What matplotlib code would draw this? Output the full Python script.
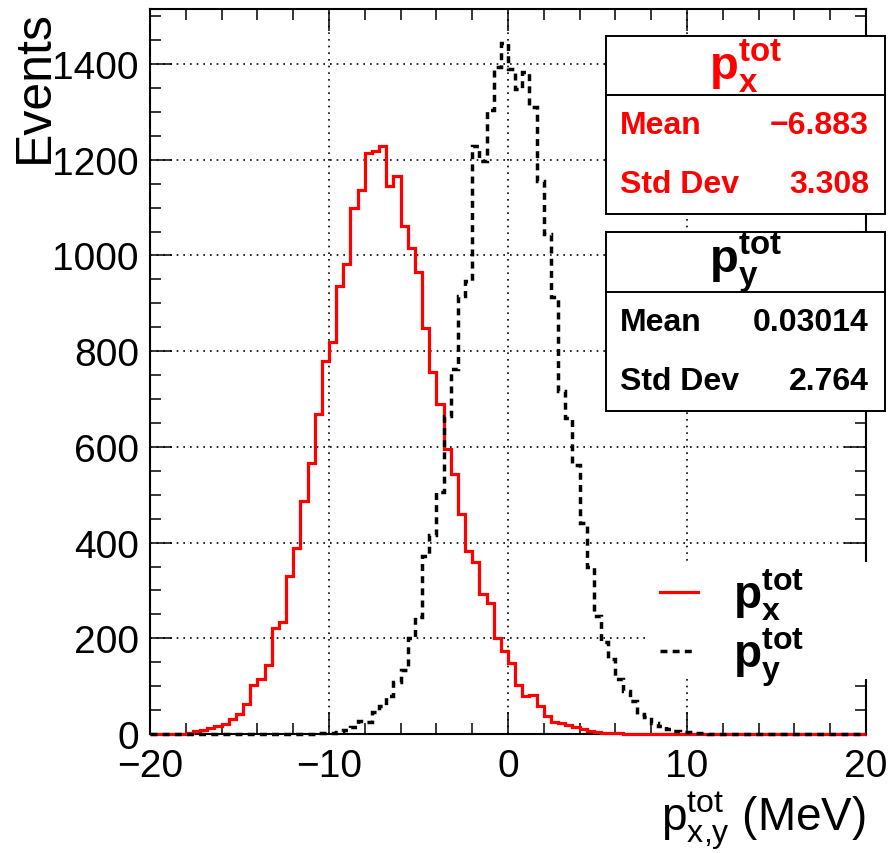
import matplotlib
matplotlib.use('Agg')
import matplotlib.pyplot as plt
import numpy as np
from matplotlib.patches import Rectangle
from matplotlib.lines import Line2D
from matplotlib.ticker import MultipleLocator

plt.rcParams['font.family'] = ['Liberation Sans', 'DejaVu Sans']
plt.rcParams['mathtext.fontset'] = 'custom'
plt.rcParams['mathtext.rm'] = 'Liberation Sans'
plt.rcParams['mathtext.it'] = 'Liberation Sans:italic'
plt.rcParams['mathtext.bf'] = 'Liberation Sans:bold'

# binning: 100 bins from -20 to 20 MeV
bin_edges = np.linspace(-20, 20, 101)

# p_x^tot (red, solid)
px_counts = [
    0, 0, 0, 1, 1, 3,
    6, 9, 12, 16, 21, 31, 42, 63, 102, 115,
    145, 221, 235, 331, 388, 487, 566, 669, 780, 820,
    937, 983, 1100, 1137, 1215, 1219, 1229, 1146, 1166, 1062,
    1015, 965, 848, 756, 690, 595, 543, 460, 383, 359,
    293, 274, 200, 174, 148, 103, 80, 81, 59, 38,
    26, 22, 19, 14, 10, 6, 4, 3, 2, 2,
    1, 1,
    0, 0, 0, 0, 0, 0, 0, 0, 0, 0, 0, 0, 0, 0, 0, 0,
    0, 0, 0, 0, 0, 0, 0, 0, 0, 0, 0, 0, 0, 0, 0, 0,
]

# p_y^tot (black, dashed)
py_counts = [
    0, 0, 0, 0, 0, 0, 0, 0, 0, 0, 0, 0, 0, 0, 0, 0, 0, 0, 0, 0,
    1, 1, 1, 2, 2, 3, 5, 9, 14, 28,
    25, 45, 58, 80, 108, 134, 200, 245, 372, 416,
    505, 665, 763, 916, 947, 1229, 1198, 1304, 1393, 1444,
    1389, 1348, 1384, 1311, 1156, 1044, 914, 716, 660, 562,
    440, 350, 247, 192, 157, 115, 90, 70, 42, 36,
    24, 17, 11, 7, 5, 4, 2, 2, 1, 1,
    0, 0, 0, 0, 0, 0, 0, 0, 0, 0, 0, 0, 0, 0, 0, 0, 0, 0, 0, 0,
]

px_stats = [('Mean', '\u22126.883'), ('Std Dev', '3.308')]
py_stats = [('Mean', '0.03014'), ('Std Dev', '2.764')]

W, H = 890, 854
fig = plt.figure(figsize=(W / 100, H / 100), dpi=100)
ax = fig.add_axes([150 / W, 1 - 735 / H, 716 / W, 725 / H])

dash = (0, (2.0, 1.5))
ax.stairs(px_counts, bin_edges, color='red', lw=2.3, baseline=0, zorder=2.6, clip_on=False)
ax.stairs(py_counts, bin_edges, color='black', lw=2.5, linestyle=dash,
          baseline=0, zorder=2.7, clip_on=False)

ax.set_xlim(-20, 20)
ax.set_ylim(0, 1515)
ax.xaxis.set_major_locator(MultipleLocator(10))
ax.xaxis.set_minor_locator(MultipleLocator(2))
ax.yaxis.set_major_locator(MultipleLocator(200))
ax.yaxis.set_minor_locator(MultipleLocator(50))
ax.tick_params(which='both', direction='in', top=True, right=True, width=1.1)
ax.tick_params(which='major', length=16)
ax.tick_params(which='minor', length=8)
ax.tick_params(axis='x', labelsize=28, pad=10)
ax.tick_params(axis='y', labelsize=28, pad=8)
for s in ax.spines.values():
    s.set_linewidth(1.5)

ax.set_axisbelow(True)
ax.grid(True, which='major', color='black', linestyle=(0, (1, 3)), lw=1.2)

ax.set_ylabel('Events', fontsize=36, loc='top')
ax.yaxis.set_label_coords(-0.128, 1.0)
ax.set_xlabel(r'$\mathrm{p^{tot}_{x{,}y}}$ (MeV)', fontsize=33, loc='right')
ax.xaxis.set_label_coords(1.0, -0.075)

# legend (ROOT style, no border, white fill over grid)
ax.add_patch(Rectangle(((650 - 150) / 716, (735 - 680) / 725), (890 - 650) / 716,
                       (680 - 563) / 725, transform=ax.transAxes, facecolor='white',
                       edgecolor='none', zorder=3, clip_on=False))
fig.add_artist(Line2D([660 / W, 698 / W], [1 - 593 / H, 1 - 593 / H], color='red', lw=2.3))
fig.add_artist(Line2D([660 / W, 696 / W], [1 - 652 / H, 1 - 652 / H], color='black', lw=2.5,
                      linestyle=dash))
fig.text(733 / W, 1 - 595 / H, r'$\mathbf{p}^{\mathbf{tot}}_{\mathbf{x}}$', fontsize=33,
         ha='left', va='center')
fig.text(733 / W, 1 - 658 / H, r'$\mathbf{p}^{\mathbf{tot}}_{\mathbf{y}}$', fontsize=33,
         ha='left', va='center')


def stat_box(top, bottom, sep, title, rows, color):
    fig.add_artist(Rectangle((606 / W, 1 - bottom / H), (885 - 606) / W, (bottom - top) / H,
                             transform=fig.transFigure, facecolor='white',
                             edgecolor='black', lw=1.4))
    fig.add_artist(Line2D([606 / W, 885 / W], [1 - sep / H, 1 - sep / H], color='black', lw=1.4))
    fig.text(746 / W, 1 - (top + sep) / 2 / H, title, fontsize=34, color=color,
             ha='center', va='center')
    row_h = (bottom - sep) / len(rows)
    for i, (name, val) in enumerate(rows):
        yc = 1 - (sep + row_h * (i + 0.5)) / H
        fig.text(620 / W, yc, name, fontsize=23, fontweight='bold', color=color,
                 ha='left', va='center')
        fig.text(869 / W, yc, val, fontsize=23, fontweight='bold', color=color,
                 ha='right', va='center')


stat_box(37, 215, 96, r'$\mathbf{p}^{\mathbf{tot}}_{\mathbf{x}}$', px_stats, 'red')
stat_box(233, 412, 293, r'$\mathbf{p}^{\mathbf{tot}}_{\mathbf{y}}$', py_stats, 'black')

fig.savefig('out.png', dpi=100)
